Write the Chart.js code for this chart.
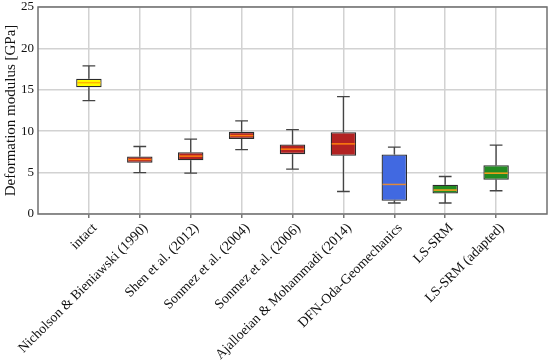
<!DOCTYPE html>
<html>
<head>
<meta charset="utf-8">
<script src="https://cdn.jsdelivr.net/npm/chart.js@4.4.1/dist/chart.umd.min.js"></script>
<style>
  html, body { margin: 0; padding: 0; background: #fff; }
  #wrap { width: 550px; height: 361px; }
</style>
</head>
<body>
<div id="wrap"><canvas id="chart"></canvas></div>
<script>
// Data (GPa)
const categories = [
    'intact',
    'Nicholson & Bieniawski (1990)',
    'Shen et al. (2012)',
    'Sonmez et al. (2004)',
    'Sonmez et al. (2006)',
    'Ajalloeian & Mohammadi (2014)',
    'DFN-Oda-Geomechanics',
    'LS-SRM',
    'LS-SRM (adapted)'
];
const positions = [1, 2, 3, 4, 5, 6, 7, 8, 9];
const whiskerLow  = [13.7, 5.0, 4.94, 7.78, 5.42, 2.72, 1.33, 1.33, 2.81];
const quartile1   = [15.3, 6.18, 6.5, 9.07, 7.23, 7.02, 1.6, 2.48, 4.13];
const medians     = [15.86, 6.58, 6.99, 9.47, 7.83, 8.47, 3.57, 2.89, 4.93];
const quartile3   = [16.34, 6.94, 7.47, 9.92, 8.39, 9.87, 7.18, 3.53, 5.9];
const whiskerHigh = [17.9, 8.15, 9.04, 11.24, 10.19, 14.17, 8.07, 4.53, 8.31];
const yTicks = [0, 5, 10, 15, 20, 25];

// Styles
const boxColors = ['#ffff00', '#b22222', '#b22222', '#b22222', '#b22222', '#b22222', '#4169e1', '#228b22', '#228b22'];
const medianColors = ['#ffb400', '#ff7f0e', '#ff7f0e', '#ff7f0e', '#ff7f0e', '#ff7f0e', '#e0893a', '#ff9f1a', '#ff9f1a'];
const serif = "'Liberation Serif', 'DejaVu Serif', serif";
const boxWidth = 0.5;   // in x units
const capWidth = 0.25;

// Whiskers under the boxes, medians on top
const boxPlotPlugin = {
    id: 'boxPlotPlugin',
    beforeDatasetsDraw(chart) {
        const { ctx, scales: { x, y } } = chart;
        ctx.save();
        ctx.strokeStyle = '#444';
        ctx.lineWidth = 1.3;
        positions.forEach((p, i) => {
            const px = x.getPixelForValue(p);
            const half = (x.getPixelForValue(p + capWidth / 2) - x.getPixelForValue(p - capWidth / 2)) / 2;
            ctx.beginPath();
            ctx.moveTo(px, y.getPixelForValue(whiskerLow[i]));
            ctx.lineTo(px, y.getPixelForValue(quartile1[i]));
            ctx.moveTo(px, y.getPixelForValue(quartile3[i]));
            ctx.lineTo(px, y.getPixelForValue(whiskerHigh[i]));
            [whiskerLow[i], whiskerHigh[i]].forEach(v => {
                ctx.moveTo(px - half, y.getPixelForValue(v));
                ctx.lineTo(px + half, y.getPixelForValue(v));
            });
            ctx.stroke();
        });
        ctx.restore();
    },
    afterDatasetsDraw(chart) {
        const { ctx, scales: { x, y } } = chart;
        ctx.save();
        ctx.lineWidth = 1.5;
        positions.forEach((p, i) => {
            const left = x.getPixelForValue(p - boxWidth / 2) + 1;
            const right = x.getPixelForValue(p + boxWidth / 2) - 1;
            const py = y.getPixelForValue(medians[i]);
            ctx.strokeStyle = medianColors[i];
            ctx.beginPath();
            ctx.moveTo(left, py);
            ctx.lineTo(right, py);
            ctx.stroke();
        });
        // frame around the plot area
        const a = chart.chartArea;
        ctx.strokeStyle = '#707070';
        ctx.lineWidth = 1.5;
        ctx.strokeRect(a.left, a.top, a.right - a.left, a.bottom - a.top);
        ctx.restore();
    }
};

new Chart(document.getElementById('chart'), {
    type: 'bar',
    data: {
        datasets: [{
            data: positions.map((p, i) => ({ x: p, y: [quartile1[i], quartile3[i]] })),
            backgroundColor: boxColors,
            borderColor: '#2b2b2b',
            borderWidth: 1.3,
            borderSkipped: false,
            categoryPercentage: 1,
            barPercentage: boxWidth
        }]
    },
    options: {
        responsive: true,
        maintainAspectRatio: false,
        animation: false,
        layout: { padding: { top: 7, right: 3, left: 0, bottom: 0 } },
        plugins: {
            legend: { display: false },
            tooltip: { enabled: false }
        },
        scales: {
            x: {
                type: 'linear',
                min: 0,
                max: 10,
                offset: false,
                afterBuildTicks(scale) {
                    scale.ticks = positions.map(p => ({ value: p }));
                },
                afterFit(scale) {
                    scale.height = 147;
                    scale.paddingLeft = 0;
                    scale.paddingRight = 0;
                },
                border: { display: false },
                grid: {
                    offset: false,
                    color: '#d2d2d2',
                    lineWidth: 1.5,
                    tickColor: '#777',
                    tickLength: 4
                },
                ticks: {
                    autoSkip: false,
                    minRotation: 45,
                    maxRotation: 45,
                    padding: 2,
                    labelOffset: 6,
                    color: '#111',
                    font: { family: serif, size: 13.8 },
                    callback(value) {
                        const i = positions.indexOf(value);
                        return i >= 0 ? categories[i] : '';
                    }
                }
            },
            y: {
                min: 0,
                max: 25,
                afterBuildTicks(scale) {
                    scale.ticks = yTicks.map(v => ({ value: v }));
                },
                afterFit(scale) {
                    scale.width = 38;
                    scale.paddingTop = 0;
                    scale.paddingBottom = 0;
                },
                border: { display: false },
                grid: {
                    color: '#d2d2d2',
                    lineWidth: 1.5,
                    drawTicks: false
                },
                ticks: {
                    padding: 4,
                    color: '#111',
                    font: { family: serif, size: 13 }
                },
                title: {
                    display: true,
                    text: 'Deformation modulus [GPa]',
                    color: '#111',
                    font: { family: serif, size: 15 },
                    padding: { top: 2, bottom: 0 }
                }
            }
        }
    },
    plugins: [boxPlotPlugin]
});
</script>
</body>
</html>
